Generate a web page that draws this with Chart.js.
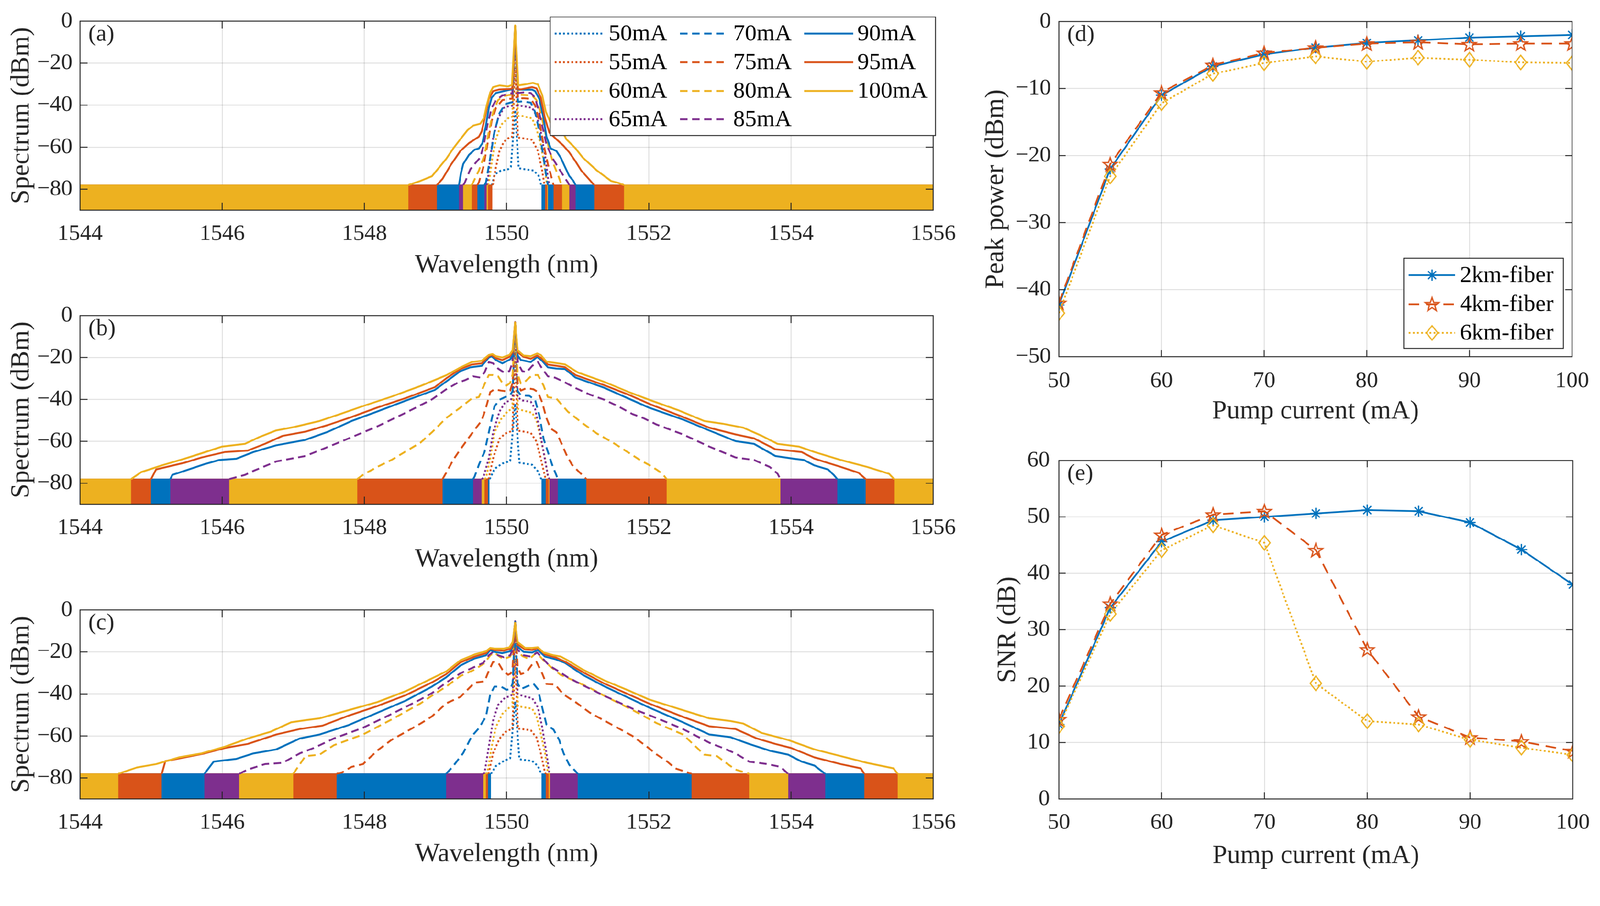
<!DOCTYPE html>
<html><head><meta charset="utf-8">
<script src="https://cdn.jsdelivr.net/npm/chart.js@4.4.1/dist/chart.umd.min.js"></script>
<style>
html,body{margin:0;padding:0;background:#fff;overflow:hidden}
#stage{position:absolute;left:0;top:0;width:4240px;height:2319px;transform-origin:0 0;background:#fff}
canvas{position:absolute;display:block}
</style></head><body>
<div id="stage">
<canvas id="ca" width="2560" height="770" style="left:0px;top:0px;width:2560px;height:770px"></canvas>
<canvas id="cb" width="2560" height="769" style="left:0px;top:780px;width:2560px;height:769px"></canvas>
<canvas id="cc" width="2560" height="759" style="left:0px;top:1560px;width:2560px;height:759px"></canvas>
<canvas id="cd" width="1680" height="1160" style="left:2560px;top:0px;width:1680px;height:1160px"></canvas>
<canvas id="ce" width="1680" height="1159" style="left:2560px;top:1160px;width:1680px;height:1159px"></canvas>
</div>
<script>
// ---------------- DATA ----------------
const wavelengthTicks = [1544, 1546, 1548, 1550, 1552, 1554, 1556];
const spectrumTicks = [-80, -60, -40, -20, 0];
const currents = ['50mA','55mA','60mA','65mA','70mA','75mA','80mA','85mA','90mA','95mA','100mA'];
const noiseTop = -78;      // top of the dense OSA noise floor (dBm)
const noiseBottom = -90;   // bottom of the axis / noise floor

// (a) spectra
const A50 = [[1549.79,-78],[1549.80,-77.4],[1549.83,-73],[1549.92,-71.1],[1550.02,-70.5],[1550.06,-69.3],[1550.12,-42.3],[1550.17,-70],[1550.26,-70.5],[1550.38,-71.1],[1550.45,-73.6],[1550.48,-77.4],[1550.49,-78]];
const A55 = [[1549.80,-78],[1549.81,-77.4],[1549.84,-71.1],[1549.90,-61.8],[1549.96,-57.5],[1550.05,-55],[1550.08,-55],[1550.12,-22],[1550.16,-55.4],[1550.20,-55.6],[1550.36,-56.5],[1550.44,-61.8],[1550.50,-71.1],[1550.53,-77.4],[1550.54,-78]];
const A60 = [[1549.74,-78],[1549.76,-74.9],[1549.80,-64.9],[1549.85,-56.2],[1549.92,-49.4],[1550.04,-45.7],[1550.08,-45.5],[1550.12,-11],[1550.16,-45.2],[1550.20,-45],[1550.36,-46.3],[1550.42,-51.3],[1550.48,-58.7],[1550.53,-68],[1550.56,-76],[1550.57,-78]];
const A65 = [[1549.72,-78],[1549.74,-74.3],[1549.77,-65],[1549.81,-55.6],[1549.88,-46.3],[1549.96,-41.3],[1550.04,-40.4],[1550.08,-40.3],[1550.12,-6.7],[1550.16,-40.3],[1550.22,-40.4],[1550.36,-41.3],[1550.42,-45],[1550.48,-52.5],[1550.54,-63.7],[1550.58,-74.3],[1550.60,-78]];
const A70 = [[1549.69,-78],[1549.71,-76.7],[1549.77,-64.9],[1549.83,-52.5],[1549.90,-43.8],[1549.98,-39.5],[1550.05,-38.8],[1550.08,-38.6],[1550.12,-4.9],[1550.16,-38.4],[1550.22,-38.2],[1550.34,-38.8],[1550.40,-43.2],[1550.46,-52.5],[1550.52,-64.9],[1550.56,-74.3],[1550.58,-78]];
const A75 = [[1549.59,-78],[1549.61,-76.7],[1549.67,-69.9],[1549.73,-58.7],[1549.79,-47.5],[1549.85,-41.3],[1549.94,-37.6],[1550.04,-37],[1550.08,-36.9],[1550.12,-3.9],[1550.16,-36.8],[1550.24,-36.7],[1550.34,-37],[1550.40,-40.1],[1550.46,-47.5],[1550.52,-58.7],[1550.58,-68],[1550.64,-75.5],[1550.66,-78]];
const A80 = [[1549.51,-78],[1549.53,-76.7],[1549.61,-71.1],[1549.69,-63.7],[1549.75,-52.5],[1549.81,-43.2],[1549.88,-37.6],[1549.96,-35.7],[1550.04,-35.1],[1550.08,-35],[1550.12,-3.2],[1550.16,-35],[1550.24,-35.1],[1550.36,-35.4],[1550.42,-37.6],[1550.48,-43.8],[1550.54,-52.5],[1550.60,-61.2],[1550.66,-68],[1550.72,-73],[1550.76,-76.7],[1550.78,-78]];
const A85 = [[1549.39,-78],[1549.41,-77],[1549.49,-70.5],[1549.55,-68],[1549.63,-64.9],[1549.68,-58.7],[1549.73,-49.4],[1549.79,-41.3],[1549.85,-37.6],[1549.94,-35.4],[1550.04,-34.5],[1550.08,-34.3],[1550.12,-2.8],[1550.16,-34.2],[1550.24,-33.9],[1550.34,-34.2],[1550.40,-36.4],[1550.46,-43.8],[1550.52,-52.5],[1550.56,-58.7],[1550.64,-64.9],[1550.72,-69.3],[1550.80,-73.6],[1550.86,-76.7],[1550.88,-78]];
const A90 = [[1549.33,-78],[1549.36,-72],[1549.39,-68],[1549.47,-63.7],[1549.55,-61.2],[1549.61,-60.6],[1549.66,-58.1],[1549.71,-49.4],[1549.75,-41.3],[1549.79,-36.4],[1549.85,-34.2],[1549.96,-33.3],[1550.05,-32.6],[1550.08,-32.4],[1550.12,-2.4],[1550.16,-32.6],[1550.19,-32.6],[1550.36,-32.6],[1550.40,-33.3],[1550.46,-37],[1550.52,-46.3],[1550.56,-55],[1550.62,-60.6],[1550.70,-61.8],[1550.76,-64.9],[1550.82,-69.3],[1550.88,-73.6],[1550.94,-76.1],[1550.97,-78]];
const A95 = [[1549.02,-78],[1549.10,-75],[1549.21,-68.7],[1549.35,-61.8],[1549.47,-58.1],[1549.61,-55],[1549.65,-52.5],[1549.70,-45],[1549.75,-37],[1549.81,-33.3],[1549.90,-32.5],[1550.05,-32.3],[1550.08,-32],[1550.12,-2.2],[1550.16,-32.3],[1550.20,-32.5],[1550.36,-31.4],[1550.42,-32],[1550.48,-36.4],[1550.54,-46.3],[1550.60,-53],[1550.70,-56.2],[1550.80,-59.3],[1550.88,-62.4],[1550.97,-66.8],[1551.05,-71.1],[1551.15,-74.9],[1551.23,-78]];
const A100 = [[1548.62,-78],[1548.77,-76.3],[1548.95,-73.8],[1549.15,-65.6],[1549.25,-60.6],[1549.35,-56.2],[1549.45,-51.9],[1549.53,-49.7],[1549.63,-48.8],[1549.68,-46.3],[1549.72,-40.1],[1549.77,-33.9],[1549.81,-31.4],[1549.90,-30.6],[1550.02,-31.1],[1550.075,-30.4],[1550.12,-2.0],[1550.165,-30.6],[1550.26,-30.1],[1550.37,-29.4],[1550.44,-30.1],[1550.50,-35.1],[1550.55,-43],[1550.62,-48.5],[1550.72,-50.5],[1550.80,-53.5],[1550.84,-56.2],[1550.97,-60.6],[1551.07,-64.9],[1551.17,-68],[1551.27,-71.1],[1551.37,-73.6],[1551.47,-76.1],[1551.57,-77],[1551.65,-78]];

// (b) spectra
const B50 = [[1549.76,-78],[1549.77,-77.5],[1549.83,-73.1],[1549.94,-70.6],[1550.05,-69.4],[1550.12,-42],[1550.18,-70.2],[1550.20,-70.3],[1550.36,-71.2],[1550.44,-74.3],[1550.48,-77.5],[1550.49,-78]];
const B55 = [[1549.74,-78],[1549.75,-77.5],[1549.81,-68.1],[1549.90,-58.8],[1549.98,-56.3],[1550.05,-55.4],[1550.08,-55],[1550.12,-21.3],[1550.16,-55],[1550.20,-55.1],[1550.34,-56],[1550.42,-60.1],[1550.48,-68.1],[1550.54,-76.8],[1550.55,-78]];
const B60 = [[1549.69,-78],[1549.71,-77.5],[1549.77,-68.1],[1549.83,-55.7],[1549.92,-49.5],[1550.02,-45.5],[1550.08,-44.5],[1550.12,-10.6],[1550.16,-44.5],[1550.22,-45.2],[1550.36,-46.4],[1550.42,-50.1],[1550.48,-58.8],[1550.54,-68.1],[1550.58,-76.8],[1550.59,-78]];
const B65 = [[1549.65,-78],[1549.67,-77.5],[1549.75,-68.1],[1549.81,-55.7],[1549.90,-45.8],[1549.98,-41.4],[1550.05,-40.5],[1550.085,-39],[1550.12,-6.5],[1550.155,-39],[1550.22,-40.5],[1550.34,-41.1],[1550.40,-44.5],[1550.46,-53.9],[1550.52,-65],[1550.58,-76.2],[1550.60,-78]];
const B70 = [[1549.53,-78],[1549.55,-76.8],[1549.61,-71.2],[1549.69,-65],[1549.77,-52.6],[1549.83,-43.3],[1549.90,-40.2],[1549.98,-38.9],[1550.05,-38],[1550.085,-36],[1550.12,-4.7],[1550.155,-36],[1550.20,-38],[1550.32,-38.3],[1550.40,-40.2],[1550.46,-47.6],[1550.52,-58.8],[1550.58,-65],[1550.64,-71.2],[1550.70,-76.2],[1550.72,-78]];
const B75 = [[1549.10,-78],[1549.15,-75],[1549.25,-68.8],[1549.35,-63.8],[1549.47,-58.2],[1549.55,-54.5],[1549.65,-50.1],[1549.71,-43.9],[1549.77,-36.5],[1549.83,-35.2],[1549.92,-35.8],[1550.0,-36.1],[1550.05,-35.8],[1550.085,-32],[1550.12,-3.9],[1550.155,-32],[1550.20,-35.8],[1550.28,-34.6],[1550.38,-35.2],[1550.44,-36.5],[1550.50,-41.4],[1550.56,-48.9],[1550.62,-53.9],[1550.70,-55.7],[1550.76,-60.1],[1550.84,-66.3],[1550.92,-71.2],[1551.01,-74.3],[1551.09,-76.8],[1551.12,-78]];
const B80 = [[1547.90,-78],[1547.98,-76],[1548.18,-72.2],[1548.38,-68.9],[1548.79,-60.6],[1548.95,-55.7],[1549.15,-48.9],[1549.35,-43.9],[1549.51,-39.6],[1549.61,-38.9],[1549.69,-32.7],[1549.75,-28.4],[1549.81,-28.4],[1549.88,-29],[1549.94,-32.1],[1550.0,-33.4],[1550.05,-32.1],[1550.085,-28],[1550.12,-3.3],[1550.155,-28],[1550.20,-32.4],[1550.26,-31.5],[1550.36,-28.4],[1550.44,-28.4],[1550.52,-33.4],[1550.58,-38.9],[1550.70,-39.6],[1550.86,-45.8],[1551.07,-51.4],[1551.27,-56.3],[1551.47,-60.1],[1551.67,-64.4],[1551.87,-68.8],[1552.0,-71.2],[1552.11,-73.5],[1552.19,-75.4],[1552.25,-78]];
const B85 = [[1546.10,-78],[1546.32,-76],[1546.44,-74.1],[1546.76,-69.6],[1547.17,-67],[1547.45,-63.2],[1547.78,-58.6],[1548.18,-52.9],[1548.58,-46.4],[1548.95,-40],[1549.15,-35.2],[1549.31,-32.1],[1549.41,-30.9],[1549.53,-29],[1549.63,-29.6],[1549.69,-27.1],[1549.75,-22.2],[1549.81,-22.8],[1549.88,-25.3],[1549.96,-27.1],[1550.04,-26.5],[1550.08,-22.8],[1550.12,-3.1],[1550.16,-22.8],[1550.22,-26.5],[1550.28,-27.1],[1550.36,-24],[1550.44,-22.2],[1550.50,-25.3],[1550.58,-29],[1550.68,-29.6],[1550.80,-31.5],[1550.97,-34.6],[1551.17,-37.7],[1551.37,-40.1],[1551.57,-43.3],[1551.77,-47],[1551.93,-49],[1552.11,-52],[1552.48,-56.7],[1552.85,-62.5],[1553.22,-67.7],[1553.48,-68.9],[1553.70,-72.2],[1553.81,-75.4],[1553.85,-78]];
const B90 = [[1545.27,-78],[1545.30,-76],[1545.47,-74.1],[1545.75,-70.9],[1545.96,-68.9],[1546.20,-68.3],[1546.44,-65.1],[1546.76,-61.9],[1547.17,-59.3],[1547.49,-55.4],[1547.82,-50.3],[1548.18,-45.8],[1548.58,-40.6],[1548.99,-35.5],[1549.15,-31.5],[1549.35,-26.5],[1549.49,-24.7],[1549.65,-24],[1549.75,-20],[1549.79,-19.4],[1549.85,-21.2],[1549.94,-22.8],[1550.05,-20.9],[1550.085,-19],[1550.12,-3.4],[1550.155,-19],[1550.20,-21.2],[1550.34,-22.2],[1550.43,-19.7],[1550.50,-21.6],[1550.58,-24.7],[1550.70,-25.3],[1550.82,-25.5],[1550.97,-29.6],[1551.37,-34.4],[1552.0,-43.9],[1552.48,-49.6],[1552.85,-54.8],[1553.22,-59.9],[1553.48,-61.2],[1553.78,-67],[1554.04,-68.3],[1554.18,-68.9],[1554.33,-71.5],[1554.52,-73.4],[1554.60,-76],[1554.65,-78]];
const B95 = [[1545.0,-78],[1545.07,-73.4],[1545.47,-70.2],[1545.71,-67.7],[1546.04,-65.1],[1546.36,-64.4],[1546.60,-61.2],[1546.85,-57.4],[1547.17,-55.4],[1547.49,-52.2],[1547.82,-48.4],[1548.18,-43.9],[1548.58,-39.4],[1548.99,-34.2],[1549.15,-30],[1549.35,-25.5],[1549.51,-23.4],[1549.65,-22.8],[1549.75,-19.4],[1549.79,-18.8],[1549.85,-20.3],[1549.94,-21.2],[1550.04,-19.7],[1550.085,-17.5],[1550.12,-3.3],[1550.155,-17.5],[1550.24,-19.7],[1550.34,-20.6],[1550.43,-19.1],[1550.50,-20.6],[1550.58,-23.4],[1550.70,-24],[1550.82,-24.6],[1550.97,-28.4],[1551.37,-33.2],[1551.74,-38.1],[1552.04,-42.6],[1552.48,-48.4],[1552.85,-53.5],[1553.22,-56.7],[1553.48,-58.6],[1553.78,-63.8],[1553.96,-64.4],[1554.15,-65.1],[1554.33,-68.3],[1554.70,-72.2],[1554.95,-75],[1555.05,-78]];
const B100 = [[1544.72,-78],[1544.86,-74.7],[1545.15,-71.5],[1545.47,-68.3],[1545.71,-65.7],[1546.0,-62.5],[1546.32,-61.2],[1546.52,-58],[1546.76,-54.8],[1547.01,-53.2],[1547.37,-50.3],[1547.65,-47.1],[1547.98,-43.2],[1548.38,-38.7],[1548.79,-33.6],[1549.15,-28.5],[1549.35,-24.8],[1549.51,-22.2],[1549.65,-21.6],[1549.75,-18.8],[1549.80,-18.4],[1549.85,-19.4],[1549.94,-20],[1550.04,-18.8],[1550.085,-16.6],[1550.12,-3.3],[1550.155,-16.6],[1550.24,-19.1],[1550.34,-19.4],[1550.43,-18.1],[1550.48,-18.8],[1550.56,-22],[1550.66,-22.5],[1550.82,-23.3],[1551.0,-27.1],[1551.37,-31.6],[1551.74,-36.8],[1552.04,-40.6],[1552.41,-45.1],[1552.78,-50.3],[1553.04,-51.6],[1553.33,-53.5],[1553.59,-57.4],[1553.81,-61.2],[1554.11,-62.5],[1554.33,-65.1],[1554.70,-68.9],[1555.07,-72.2],[1555.38,-75.5],[1555.45,-78]];

// (c) spectra
const C50 = [[1549.78,-78],[1549.79,-77.5],[1549.85,-74.3],[1549.96,-71.9],[1550.05,-70.6],[1550.12,-43.5],[1550.18,-71],[1550.20,-71.2],[1550.36,-71.9],[1550.44,-74.3],[1550.48,-77.5],[1550.49,-78]];
const C55 = [[1549.74,-78],[1549.75,-77.5],[1549.81,-68.1],[1549.90,-61.3],[1549.98,-58.2],[1550.05,-57],[1550.08,-56.8],[1550.12,-23.1],[1550.16,-56.6],[1550.20,-56.6],[1550.34,-57.3],[1550.42,-60.7],[1550.48,-68.1],[1550.54,-77.5],[1550.55,-78]];
const C60 = [[1549.71,-78],[1549.73,-77.5],[1549.79,-65],[1549.85,-55.7],[1549.94,-49.5],[1550.04,-46.4],[1550.08,-46],[1550.12,-12.2],[1550.16,-46],[1550.20,-46.1],[1550.36,-47],[1550.42,-50.7],[1550.48,-58.8],[1550.54,-68.1],[1550.58,-77.5],[1550.59,-78]];
const C65 = [[1549.67,-78],[1549.69,-77.5],[1549.75,-65],[1549.81,-52.6],[1549.88,-45.2],[1549.98,-41.7],[1550.05,-41.1],[1550.085,-40],[1550.12,-7.8],[1550.155,-40],[1550.24,-41.1],[1550.36,-42],[1550.44,-46.4],[1550.50,-55.7],[1550.56,-68.1],[1550.60,-77.5],[1550.61,-78]];
const C70 = [[1549.15,-78],[1549.25,-74.3],[1549.39,-68.1],[1549.51,-60.1],[1549.61,-56.3],[1549.71,-50.7],[1549.77,-40.2],[1549.83,-36.5],[1549.92,-36.5],[1550.0,-38],[1550.05,-37.7],[1550.085,-35],[1550.12,-6.2],[1550.155,-35],[1550.20,-37.7],[1550.28,-36.5],[1550.38,-35.2],[1550.44,-37.7],[1550.50,-46.4],[1550.56,-54.5],[1550.66,-57],[1550.74,-61.9],[1550.80,-68.1],[1550.88,-73.7],[1550.97,-76.8],[1551.0,-78]];
const C75 = [[1547.61,-78],[1547.69,-77.3],[1547.82,-74.7],[1547.98,-73.4],[1548.18,-67],[1548.38,-61.9],[1548.79,-54.1],[1548.95,-50.7],[1549.15,-44.5],[1549.35,-41.4],[1549.55,-34.6],[1549.69,-34],[1549.75,-29],[1549.81,-24.7],[1549.88,-25],[1549.94,-28.4],[1550.02,-30.9],[1550.06,-30.2],[1550.085,-27],[1550.12,-5.2],[1550.155,-27],[1550.20,-30.6],[1550.28,-29.6],[1550.36,-25.9],[1550.42,-24.7],[1550.50,-30.2],[1550.56,-35.2],[1550.68,-35.5],[1550.80,-40.2],[1550.88,-42],[1550.97,-43.9],[1551.17,-48.9],[1551.37,-52.6],[1551.57,-56.3],[1551.77,-60],[1551.97,-65],[1552.11,-68.8],[1552.26,-72.2],[1552.37,-75.4],[1552.60,-78]];
const C80 = [[1547.0,-78],[1547.17,-69.6],[1547.37,-68.9],[1547.57,-64.4],[1547.98,-59.3],[1548.38,-52.2],[1548.79,-44.5],[1548.95,-40.8],[1549.15,-36.5],[1549.35,-31.5],[1549.55,-28.4],[1549.69,-25.3],[1549.77,-21.6],[1549.83,-20.3],[1549.90,-22.2],[1549.96,-23.4],[1550.05,-22.2],[1550.085,-19.5],[1550.12,-6.0],[1550.155,-19.5],[1550.22,-21.9],[1550.32,-23.4],[1550.42,-20.3],[1550.52,-24],[1550.62,-27.1],[1550.76,-30.9],[1550.97,-34],[1551.17,-37.1],[1551.37,-40.8],[1551.77,-47.6],[1552.11,-53.9],[1552.48,-59.3],[1552.78,-68.9],[1552.96,-69.6],[1553.11,-73.4],[1553.22,-76],[1553.41,-78]];
const C85 = [[1546.24,-78],[1546.36,-76],[1546.60,-73.4],[1546.85,-72.8],[1547.09,-68.3],[1547.29,-65.7],[1547.57,-61.2],[1547.98,-56.1],[1548.38,-49.6],[1548.79,-42.6],[1548.95,-39.6],[1549.15,-34.6],[1549.35,-30.2],[1549.55,-27.1],[1549.67,-25.3],[1549.75,-21.6],[1549.81,-20],[1549.88,-21.6],[1549.96,-22.5],[1550.05,-21.6],[1550.085,-19],[1550.12,-5.4],[1550.155,-19],[1550.24,-21.6],[1550.34,-22.2],[1550.43,-20.3],[1550.50,-22.8],[1550.60,-26.5],[1550.72,-29],[1550.86,-32.1],[1551.07,-35.8],[1551.37,-40.8],[1551.77,-47],[1552.11,-51.5],[1552.48,-56.7],[1552.85,-63.2],[1553.04,-65.7],[1553.22,-68.3],[1553.41,-72.2],[1553.67,-73.4],[1553.85,-74.7],[1553.96,-78]];
const C90 = [[1545.75,-78],[1545.88,-72.2],[1546.20,-70.9],[1546.44,-68.3],[1546.76,-66.4],[1547.09,-61.2],[1547.37,-59.3],[1547.78,-54.8],[1548.18,-49],[1548.58,-43.2],[1548.95,-36.5],[1549.15,-32.1],[1549.35,-26.5],[1549.55,-23.1],[1549.71,-21.6],[1549.77,-19.1],[1549.83,-20],[1549.94,-20.6],[1550.05,-19.7],[1550.085,-17.5],[1550.12,-5.7],[1550.155,-17.5],[1550.24,-20],[1550.36,-20.3],[1550.44,-19.1],[1550.54,-22.2],[1550.68,-23.4],[1550.82,-25.2],[1551.07,-30.9],[1551.37,-36.3],[1552.0,-46.4],[1552.48,-53.5],[1552.85,-59.3],[1553.15,-60.6],[1553.41,-63.8],[1553.70,-67],[1553.96,-68.9],[1554.15,-72.2],[1554.33,-74.1],[1554.48,-78]];
const C95 = [[1545.15,-78],[1545.20,-72],[1545.47,-70.2],[1545.75,-68.3],[1546.04,-65.7],[1546.36,-63.8],[1546.76,-59.3],[1547.09,-56.7],[1547.41,-55.1],[1547.78,-50.3],[1548.18,-45.8],[1548.58,-40.6],[1548.95,-34.5],[1549.15,-30.6],[1549.35,-25],[1549.55,-22.2],[1549.71,-20.6],[1549.77,-18.4],[1549.83,-19.1],[1549.96,-19.4],[1550.06,-18.4],[1550.085,-16.5],[1550.12,-6.1],[1550.155,-16.5],[1550.26,-18.8],[1550.36,-19.1],[1550.44,-18.1],[1550.54,-21.2],[1550.68,-22.5],[1550.82,-24.6],[1551.07,-29.6],[1551.37,-35],[1552.0,-44.5],[1552.48,-50.9],[1552.85,-55.4],[1553.22,-56.7],[1553.52,-61.2],[1553.78,-63.8],[1554.0,-65.7],[1554.33,-70.2],[1554.70,-73.4],[1554.98,-75.4],[1555.03,-78]];
const C100 = [[1544.54,-78],[1544.80,-75],[1545.07,-73.4],[1545.39,-70.2],[1545.71,-68.3],[1546.04,-65.1],[1546.36,-61.2],[1546.68,-58],[1546.97,-53.5],[1547.17,-52.5],[1547.37,-51.6],[1547.78,-47.7],[1548.18,-43.9],[1548.58,-38.7],[1548.95,-32.6],[1549.15,-29.3],[1549.35,-24],[1549.55,-21.2],[1549.71,-19.7],[1549.77,-18.1],[1549.83,-18.4],[1549.96,-18.4],[1550.04,-17.8],[1550.085,-15.3],[1550.12,-6.2],[1550.155,-15.3],[1550.26,-18.1],[1550.36,-18.1],[1550.44,-17.8],[1550.52,-20.3],[1550.66,-21.6],[1550.76,-22.2],[1550.86,-24],[1551.07,-28.4],[1551.37,-33.5],[1551.74,-38.7],[1552.0,-42.6],[1552.48,-47.7],[1552.85,-51.6],[1553.15,-52.9],[1553.33,-54.1],[1553.59,-58.6],[1553.96,-61.9],[1554.33,-66.4],[1554.70,-69.6],[1555.07,-72.8],[1555.44,-75.4],[1555.50,-78]];

// (d), (e)
const pumpCurrent = [50, 55, 60, 65, 70, 75, 80, 85, 90, 95, 100];
const pumpTicks = [50, 60, 70, 80, 90, 100];
const peakTicks = [-50, -40, -30, -20, -10, 0];
const snrTicks = [0, 10, 20, 30, 40, 50, 60];
const fiberLabels = ['2km-fiber', '4km-fiber', '6km-fiber'];
const peak2km = [-42.3, -22.0, -11.0, -6.7, -4.9, -3.9, -3.2, -2.8, -2.4, -2.2, -2.0];
const peak4km = [-42.0, -21.3, -10.6, -6.5, -4.7, -3.9, -3.3, -3.1, -3.4, -3.3, -3.3];
const peak6km = [-43.5, -23.1, -12.2, -7.8, -6.2, -5.2, -6.0, -5.4, -5.7, -6.1, -6.2];
const snr2km = [13.2, 33.9, 45.6, 49.4, 50.0, 50.6, 51.2, 51.0, 49.0, 44.2, 38.0];
const snr4km = [14.1, 34.6, 46.8, 50.4, 51.0, 44.1, 26.5, 14.6, 10.9, 10.2, 8.5];
const snr6km = [12.9, 32.8, 44.1, 48.5, 45.4, 20.5, 13.8, 13.2, 10.5, 9.1, 7.8];

// ---------------- STYLE ----------------
const FONT = "'Liberation Serif','Times New Roman',serif";
const INK = '#262626';
const GRID = 'rgba(38,38,38,0.15)';
const MCOL = ['#0072BD', '#D95319', '#EDB120', '#7E2F8E'];
const DOT = [5, 6], DASH = [20, 12];
const fmt = v => String(v).replace('-', '\u2212');

// fit the 4240x2319 design into whatever CSS viewport the browser reports
(function () {
  const s = Math.min(window.innerWidth / 4240, window.innerHeight / 2319);
  document.getElementById('stage').style.transform = 'scale(' + s + ')';
})();

function styleOf(i) {
  return { color: MCOL[i % 4], dash: i < 4 ? DOT : (i < 8 ? DASH : []) };
}

function spectrumDatasets(list) {
  const ds = [];
  list.forEach((arr, i) => {
    const st = styleOf(i);
    const order = 10 - i;  // later currents drawn on top
    const first = arr[0][0], last = arr[arr.length - 1][0];
    ds.push({ label: currents[i], data: arr.map(p => ({ x: p[0], y: p[1] })),
      borderColor: st.color, borderWidth: 5, borderDash: st.dash, borderCapStyle: 'butt',
      borderJoinStyle: 'round', pointRadius: 0, fill: false, order });
    [[wavelengthTicks[0], first], [last, wavelengthTicks[wavelengthTicks.length - 1]]].forEach(rng => {
      ds.push({ label: currents[i] + ' noise', data: [{ x: rng[0], y: noiseTop }, { x: rng[1], y: noiseTop }],
        borderColor: st.color, backgroundColor: st.color, borderWidth: 2, pointRadius: 0,
        fill: { value: noiseBottom }, order });
    });
  });
  return ds;
}

const framePlugin = {
  id: 'frame',
  afterDatasetsDraw(chart, args, o) {
    const { left, right, top, bottom } = chart.chartArea;
    const g = chart.ctx; g.save();
    g.strokeStyle = INK; g.lineWidth = 2.5; g.setLineDash([]);
    const xs = chart.scales.x, ys = chart.scales.y;
    g.beginPath();
    xs.ticks.forEach(t => { const p = xs.getPixelForValue(t.value); if (p < left + 2 || p > right - 2) return;
      g.moveTo(p, bottom); g.lineTo(p, bottom - o.tick); g.moveTo(p, top); g.lineTo(p, top + o.tick); });
    ys.ticks.forEach(t => { const p = ys.getPixelForValue(t.value); if (p < top + 2 || p > bottom - 2) return;
      g.moveTo(left, p); g.lineTo(left + o.tick, p); g.moveTo(right, p); g.lineTo(right - o.tick, p); });
    g.stroke();
    g.strokeRect(left, top, right - left, bottom - top);
    g.fillStyle = INK; g.font = '62px ' + FONT; g.textAlign = 'left'; g.textBaseline = 'alphabetic';
    g.fillText(o.label, left + 22, top + 52);
    g.restore();
  }
};

function starCanvas(color, R, lw) {
  const s = Math.ceil(2 * R + 2 * lw + 4), c = document.createElement('canvas');
  c.width = c.height = s; const g = c.getContext('2d');
  g.strokeStyle = color; g.lineWidth = lw; g.lineJoin = 'miter'; g.beginPath();
  for (let k = 0; k < 10; k++) { const a = -Math.PI / 2 + k * Math.PI / 5, rr = k % 2 ? R * 0.40 : R;
    const px = s / 2 + rr * Math.cos(a), py = s / 2 + 1.5 + rr * Math.sin(a); k ? g.lineTo(px, py) : g.moveTo(px, py); }
  g.closePath(); g.stroke(); return c;
}
function diamondCanvas(color, w, h, lw) {
  const c = document.createElement('canvas'); c.width = Math.ceil(w + 2 * lw + 2); c.height = Math.ceil(h + 2 * lw + 2);
  const g = c.getContext('2d'), cx = c.width / 2, cy = c.height / 2;
  g.strokeStyle = color; g.lineWidth = lw; g.beginPath();
  g.moveTo(cx, cy - h / 2); g.lineTo(cx + w / 2, cy); g.lineTo(cx, cy + h / 2); g.lineTo(cx - w / 2, cy); g.closePath(); g.stroke();
  return c;
}
const STAR4 = starCanvas(MCOL[1], 19, 3.5);
const DIAM6 = diamondCanvas(MCOL[2], 30, 38, 3.5);
function drawAsterisk(g, x, y, r, color, lw) {
  g.save(); g.strokeStyle = color; g.lineWidth = lw; g.setLineDash([]); g.beginPath();
  for (let k = 0; k < 4; k++) { const a = k * Math.PI / 4; g.moveTo(x - r * Math.cos(a), y - r * Math.sin(a)); g.lineTo(x + r * Math.cos(a), y + r * Math.sin(a)); }
  g.stroke(); g.restore();
}

function legendA() {
  return { id: 'legA', afterDatasetsDraw(chart) {
    const g = chart.ctx; g.save();
    g.fillStyle = '#fff'; g.fillRect(1458, 45, 1021, 314);
    g.strokeStyle = INK; g.lineWidth = 2.5; g.setLineDash([]); g.strokeRect(1458, 45, 1021, 314);
    const x0 = [1470, 1802, 2131], x1 = [1602, 1920, 2261], tx = [1613, 1943, 2272], rows = [89, 165, 241, 316];
    g.font = '62px ' + FONT; g.textBaseline = 'middle'; g.textAlign = 'left';
    currents.forEach((lab, i) => {
      const c = Math.floor(i / 4), r = i % 4, st = styleOf(i);
      g.strokeStyle = st.color; g.lineWidth = 5; g.setLineDash(st.dash); g.lineCap = 'butt';
      g.beginPath(); g.moveTo(x0[c], rows[r]); g.lineTo(x1[c], rows[r]); g.stroke();
      g.setLineDash([]); g.fillStyle = '#000'; g.fillText(lab, tx[c], rows[r] + 2);
    });
    g.restore();
  } };
}
function legendD() {
  return { id: 'legD', afterDatasetsDraw(chart) {
    const g = chart.ctx; g.save();
    g.fillStyle = '#fff'; g.fillRect(1160, 684, 423, 239);
    g.strokeStyle = INK; g.lineWidth = 2.5; g.setLineDash([]); g.strokeRect(1160, 684, 423, 239);
    const rows = [729, 806, 882], dashes = [[], [28, 18], [5, 6]];
    g.font = '62px ' + FONT; g.textBaseline = 'middle'; g.textAlign = 'left';
    fiberLabels.forEach((lab, i) => {
      g.strokeStyle = MCOL[i]; g.lineWidth = 4.5; g.setLineDash(dashes[i]);
      g.beginPath(); g.moveTo(1173, rows[i]); g.lineTo(1296, rows[i]); g.stroke(); g.setLineDash([]);
      if (i === 0) drawAsterisk(g, 1235, rows[i], 15, MCOL[0], 3.5);
      else { const im = i === 1 ? STAR4 : DIAM6; g.drawImage(im, 1235 - im.width / 2, rows[i] - im.height / 2); }
      g.fillStyle = '#000'; g.fillText(lab, 1309, rows[i] + 2);
    });
    g.restore();
  } };
}

function axisCommon(ticksArr, min, max, title, geo, isX) {
  const s = {
    type: 'linear', min, max,
    afterBuildTicks: sc => { sc.ticks = ticksArr.map(v => ({ value: v })); },
    grid: { color: GRID, lineWidth: 2.5, drawTicks: false },
    border: { display: false },
    ticks: { padding: isX ? geo.xPad : geo.yPad, font: { family: FONT, size: 60 }, color: INK,
      maxRotation: 0, autoSkip: false, callback: v => fmt(v) },
    title: { display: true, text: title, font: { family: FONT, size: 70 }, color: INK,
      padding: isX ? { top: 0, bottom: geo.xTitlePad } : { top: geo.yTitlePad, bottom: 0 } }
  };
  if (isX) s.afterFit = sc => { sc.height = geo.xH; };
  else s.afterFit = sc => { sc.width = geo.yW; };
  return s;
}

function makeSpectrum(id, list, label, geo, extraPlugins) {
  new Chart(document.getElementById(id), {
    type: 'line',
    data: { datasets: spectrumDatasets(list) },
    options: {
      responsive: false, animation: false, events: [], parsing: false,
      layout: { padding: { top: geo.top, left: 0, right: geo.right, bottom: 0 } },
      plugins: { legend: { display: false }, tooltip: { enabled: false }, frame: { tick: 20, label } },
      scales: {
        x: axisCommon(wavelengthTicks, 1544, 1556, 'Wavelength (nm)', geo, true),
        y: axisCommon(spectrumTicks, -90, 0, 'Spectrum (dBm)', geo, false)
      }
    },
    plugins: [framePlugin].concat(extraPlugins || [])
  });
}

makeSpectrum('ca', [A50, A55, A60, A65, A70, A75, A80, A85, A90, A95, A100], '(a)',
  { top: 40, right: 72, xH: 213, xPad: 27, xTitlePad: 24, yW: 212, yPad: 20, yTitlePad: 16 }, [legendA()]);
makeSpectrum('cb', [B50, B55, B60, B65, B70, B75, B80, B85, B90, B95, B100], '(b)',
  { top: 39, right: 72, xH: 213, xPad: 27, xTitlePad: 24, yW: 212, yPad: 20, yTitlePad: 16 });
makeSpectrum('cc', [C50, C55, C60, C65, C70, C75, C80, C85, C90, C95, C100], '(c)',
  { top: 39, right: 72, xH: 202, xPad: 27, xTitlePad: 13, yW: 212, yPad: 20, yTitlePad: 16 });

function fiberDatasets(a, b, c) {
  const mk = (vals, i, extra) => Object.assign({
    label: fiberLabels[i], data: pumpCurrent.map((x, k) => ({ x, y: vals[k] })),
    borderColor: MCOL[i], backgroundColor: 'rgba(0,0,0,0)', borderWidth: 4.5, pointBorderColor: MCOL[i],
    pointBackgroundColor: 'rgba(0,0,0,0)', fill: false, tension: 0, order: 2 - i
  }, extra);
  return [
    mk(a, 0, { pointStyle: 'star', pointRadius: 15, pointBorderWidth: 3.5 }),
    mk(b, 1, { borderDash: [28, 18], pointStyle: STAR4, pointRadius: 19 }),
    mk(c, 2, { borderDash: [5, 6], pointStyle: DIAM6, pointRadius: 19 })
  ];
}
function makeFiber(id, sets, yTicks, ymin, ymax, ytitle, label, geo, extraPlugins) {
  new Chart(document.getElementById(id), {
    type: 'line',
    data: { datasets: fiberDatasets(sets[0], sets[1], sets[2]) },
    options: {
      responsive: false, animation: false, events: [], parsing: false,
      layout: { padding: { top: geo.top, left: 0, right: geo.right, bottom: 0 } },
      plugins: { legend: { display: false }, tooltip: { enabled: false }, frame: { tick: 18, label } },
      scales: {
        x: axisCommon(pumpTicks, 50, 100, 'Pump current (mA)', geo, true),
        y: axisCommon(yTicks, ymin, ymax, ytitle, geo, false)
      }
    },
    plugins: [framePlugin].concat(extraPlugins || [])
  });
}
makeFiber('cd', [peak2km, peak4km, peak6km], peakTicks, -50, 0, 'Peak power (dBm)', '(d)',
  { top: 38.5, right: 68, xH: 215, xPad: 29, xTitlePad: 27, yW: 246, yPad: 21, yTitlePad: 38 }, [legendD()]);
makeFiber('ce', [snr2km, snr4km, snr6km], snrTicks, 0, 60, 'SNR (dB)', '(e)',
  { top: 48, right: 68, xH: 202, xPad: 27, xTitlePad: 8, yW: 246, yPad: 24, yTitlePad: 70 });
</script>
</body></html>
